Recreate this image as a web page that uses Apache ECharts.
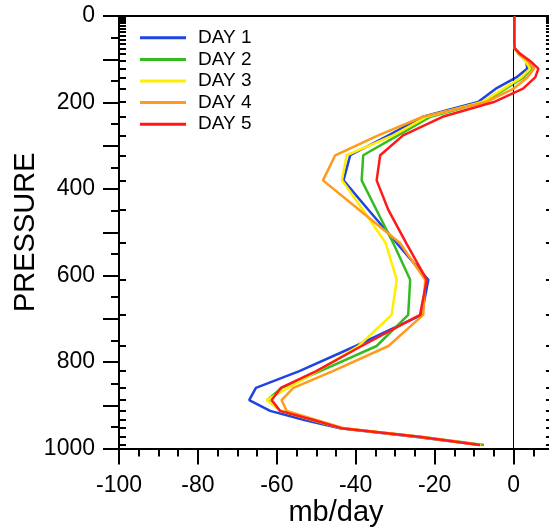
<!DOCTYPE html>
<html><head><meta charset="utf-8">
<script src="https://cdn.jsdelivr.net/npm/echarts@6/dist/echarts.min.js"></script>
<style>html,body{margin:0;padding:0;background:#fff}#c{width:549px;height:528px}</style>
</head><body><div id="c"></div>
<script>
// Pressure levels (mb)
const levels = [2, 4, 6, 9, 12, 16, 21.5, 29, 37, 45, 54.5, 65, 75, 87, 104, 121.5, 142, 168, 199, 233, 276, 322, 380, 449, 525, 610, 691, 763, 821, 860, 888, 913, 934, 953, 973, 992];
// Values (mb/day)
const day1 = [0.2,0.2,0.2,0.2,0.2,0.2,0.2,0.2,0.2,0.2,0.2,0.2, 0.3,1.5,3.2,3.5,0.7,-4.5,-9,-23,-31.7,-41.4,-43.1,-36.7,-29.6,-21.6,-23.3,-40,-54.3,-65.3,-67,-61.7,-53,-44,-25,-8.3];
const day2 = [0.2,0.2,0.2,0.2,0.2,0.2,0.2,0.2,0.2,0.2,0.2,0.2, 0.3,1.2,3.2,4.5,2.5,-2,-7.5,-21,-29.3,-38.1,-38.5,-34.7,-30.5,-26.2,-26.7,-34.7,-49,-58.8,-62.4,-59,-51,-43.5,-23.5,-7.5];
const day3 = [0.2,0.2,0.2,0.2,0.2,0.2,0.2,0.2,0.2,0.2,0.2,0.2, 0.3,1.2,3.0,4.2,2.0,-2.5,-8,-22,-30.5,-42.3,-43.5,-38.1,-32.4,-29.6,-30.9,-39.3,-49.7,-57.2,-62.6,-59,-51,-43.5,-24,-8.2];
const day4 = [0.2,0.2,0.2,0.2,0.2,0.2,0.2,0.2,0.2,0.2,0.2,0.2, 0.3,1.2,3.7,5.2,3.5,0,-7,-23,-34.3,-45.2,-48.3,-39,-28.8,-22.4,-22.9,-31.7,-45.8,-55.8,-58.8,-57.5,-50,-43,-24,-8.4];
const day5 = [0.2,0.2,0.2,0.2,0.2,0.2,0.2,0.2,0.2,0.2,0.2,0.2, 0.3,1.6,4.2,6.3,5.5,2.4,-5,-18,-28,-33.8,-34.7,-31.7,-27.2,-22,-23.7,-38.5,-50,-59,-61.3,-59.2,-50.8,-43.7,-24,-8.5];
const seriesNames = ['DAY 1', 'DAY 2', 'DAY 3', 'DAY 4', 'DAY 5'];
const seriesColors = ['#1f45e0', '#33bb22', '#ffee00', '#ff9a1a', '#ff1a1a'];
// Ticks
const xTickLabels = [-100, -80, -60, -40, -20, 0];
const xMinorTicks = [-95, -90, -85, -75, -70, -65, -55, -50, -45, -35, -30, -25, -15, -10, -5, 5, 10];
const yTickLabels = [0, 200, 400, 600, 800, 1000];
const yMajorTicks = [0, 100, 200, 300, 400, 500, 600, 700, 800, 900, 1000];
const yMinorTicks = [50, 150, 250, 350, 450, 550, 650, 750, 850, 950];

const FONT = 'Liberation Sans';
const allData = [day1, day2, day3, day4, day5];
const black = {color: '#000', width: 2};
const plain = v => String(v);

const series = allData.map((arr, i) => ({
  name: seriesNames[i], type: 'line', xAxisIndex: 0, yAxisIndex: 0,
  data: levels.map((p, k) => [arr[k], p]),
  symbol: 'none', showSymbol: false,
  lineStyle: {color: seriesColors[i], width: 2.5},
  itemStyle: {color: seriesColors[i]},
  z: 3 + i
}));
series.unshift({
  type: 'line', xAxisIndex: 0, yAxisIndex: 0, data: [], z: 2,
  markLine: {silent: true, symbol: ['none', 'none'], label: {show: false},
    lineStyle: {color: '#000', width: 1, type: 'solid'}, data: [{xAxis: 0}], animation: false}
});

const chart = echarts.init(document.getElementById('c'), null, {renderer: 'canvas'});
chart.setOption({
  animation: false,
  backgroundColor: '#fff',
  grid: {left: 119, top: 16, right: -4, bottom: 79.5, containLabel: false, outerBoundsMode: 'none'},
  legend: {
    left: 140, top: 27, padding: 0, orient: 'vertical', icon: 'rect', itemWidth: 46, itemHeight: 3, itemGap: 0,
    data: seriesNames,
    textStyle: {fontSize: 19, lineHeight: 21.6, color: '#000', fontFamily: FONT, padding: [0, 0, 0, 7]}
  },
  xAxis: [
    {type: 'value', position: 'bottom', min: -100, max: 10,
     axisLine: {show: true, onZero: false, lineStyle: black},
     axisTick: {show: true, inside: false, length: 16, lineStyle: black, customValues: xTickLabels},
     axisLabel: {show: true, customValues: xTickLabels, formatter: plain, fontSize: 23, margin: 26, color: '#000', fontFamily: FONT},
     splitLine: {show: false},
     name: 'mb/day', nameLocation: 'middle', nameGap: 50, nameMoveOverlap: false,
     nameTextStyle: {fontSize: 29, color: '#000', fontFamily: FONT}},
    {type: 'value', position: 'bottom', min: -100, max: 10,
     axisLine: {show: false, onZero: false},
     axisTick: {show: true, inside: false, length: 8, lineStyle: black, customValues: xMinorTicks},
     axisLabel: {show: false}, splitLine: {show: false}},
    {type: 'value', position: 'top', min: -100, max: 10,
     axisLine: {show: true, onZero: false, lineStyle: black},
     axisTick: {show: false}, axisLabel: {show: false}, splitLine: {show: false}}
  ],
  yAxis: [
    {type: 'value', position: 'left', inverse: true, min: 0, max: 1000,
     axisLine: {show: true, onZero: false, lineStyle: black},
     axisTick: {show: true, inside: false, length: 16, lineStyle: black, customValues: yMajorTicks},
     axisLabel: {show: true, customValues: yTickLabels, formatter: plain, fontSize: 23, margin: 24, color: '#000', fontFamily: FONT},
     splitLine: {show: false},
     name: 'PRESSURE', nameLocation: 'middle', nameGap: 79, nameMoveOverlap: false,
     nameTextStyle: {fontSize: 29, color: '#000', fontFamily: FONT}},
    {type: 'value', position: 'left', inverse: true, min: 0, max: 1000,
     axisLine: {show: false, onZero: false},
     axisTick: {show: true, inside: false, length: 8, lineStyle: black, customValues: yMinorTicks},
     axisLabel: {show: false}, splitLine: {show: false}},
    {type: 'value', position: 'left', inverse: true, min: 0, max: 1000,
     axisLine: {show: false, onZero: false},
     axisTick: {show: true, inside: true, length: 7, lineStyle: black, customValues: levels},
     axisLabel: {show: false}, splitLine: {show: false}},
    {type: 'value', position: 'right', inverse: true, min: 0, max: 1000,
     axisLine: {show: true, onZero: false, lineStyle: black},
     axisTick: {show: true, inside: true, length: 7, lineStyle: black, customValues: levels},
     axisLabel: {show: false}, splitLine: {show: false}}
  ],
  series: series
});
</script></body></html>
